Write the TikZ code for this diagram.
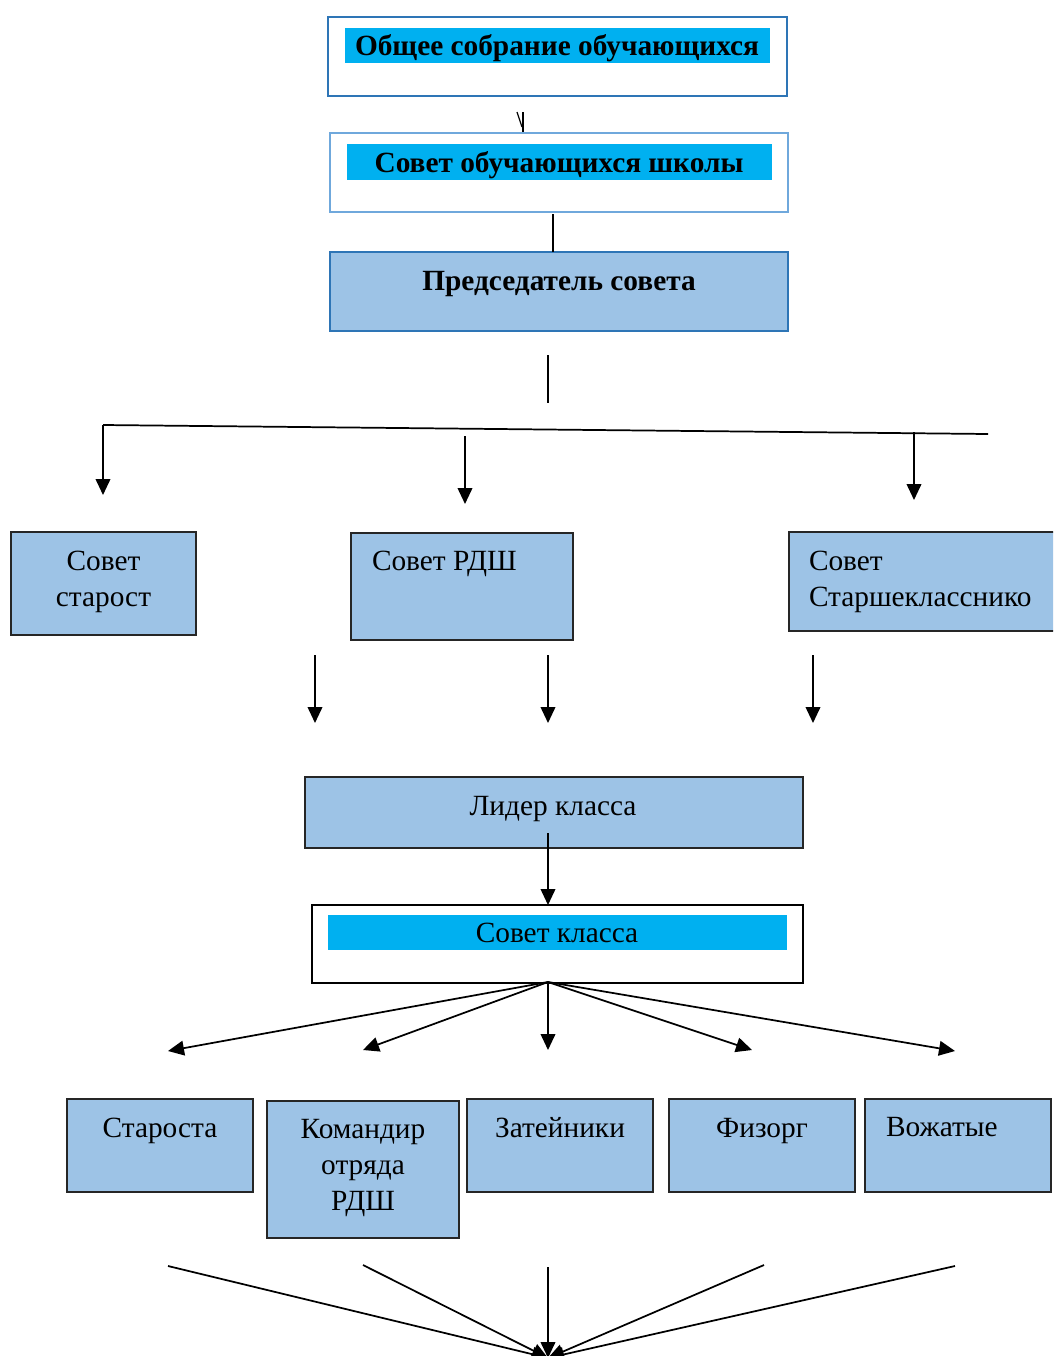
\documentclass[tikz,border=0pt]{standalone}
\usepackage{fontspec}
\setmainfont{Liberation Serif}
\usetikzlibrary{arrows.meta}
\definecolor{boxfill}{HTML}{9DC3E6}
\definecolor{cyanbar}{HTML}{00B0F0}
\definecolor{darkblue}{HTML}{2E75B6}
\definecolor{lightblue}{HTML}{6FA8DC}
\begin{document}
\begin{tikzpicture}[x=0.75pt,y=-0.75pt,
  every node/.style={inner sep=0pt,outer sep=0pt},
  bluebox/.style={draw=#1,line width=2.2pt,fill=white},
  fillbox/.style={draw=black!85,line width=1.6pt,fill=boxfill},
  bar/.style={fill=cyanbar},
  txt/.style={font=\fontsize{22}{27}\selectfont,anchor=base},
  btxt/.style={font=\fontsize{22}{27}\selectfont\bfseries,anchor=base},
  conn/.style={line width=1.3pt},
  arr/.style={line width=1.3pt,-{Triangle[length=12pt,width=11pt]}}]
\useasboundingbox (0,0) rectangle (1053,1356);
\clip (0,0) rectangle (1053,1356);
\fill[white] (0,0) rectangle (1053,1356);

% top three boxes
\draw[bluebox=darkblue] (328,17) rectangle (787,96);
\node[bar,minimum width=425*0.75pt,minimum height=35*0.75pt] (bar1) at (557.5,45.5) {};
\node[btxt] (t1) at (557,55) {Общее собрание обучающихся};

\coordinate (k1) at (523,112);
\coordinate (k2) at (523,132);
\draw[line width=1.6pt] (k1) -- (k2);
\draw[line width=0.9pt] (517,112) -- (522,127);

\draw[bluebox=lightblue] (330,133) rectangle (788,212);
\node[bar,minimum width=425*0.75pt,minimum height=36*0.75pt] (bar2) at (559.5,162) {};
\node[btxt] (t2) at (559,172) {Совет обучающихся школы};

\node[fillbox,draw=darkblue,line width=2.2pt,minimum width=458*0.75pt,minimum height=79*0.75pt] (pred) at (559,291.5) {};
\node[btxt] (t3) at (559,290) {Председатель совета};
\draw[conn] (553,214) -- (pred.north -| 553,0);

% branch
\coordinate (v1) at (548,355);
\coordinate (v2) at (548,403);
\draw[conn] (v1) -- (v2);
\coordinate (hL) at (103,425);
\coordinate (hR) at (988,434);
\draw[conn] (hL) -- (hR);
\coordinate (a1e) at (103,495);
\coordinate (a2s) at (465,436);
\coordinate (a2e) at (465,504);
\coordinate (a3s) at (914,432);
\coordinate (a3e) at (914,500);
\draw[arr] (hL) -- (a1e);
\draw[arr] (a2s) -- (a2e);
\draw[arr] (a3s) -- (a3e);

% middle row
\node[fillbox,minimum width=185*0.75pt,minimum height=103*0.75pt] (starost) at (103.5,583.5) {};
\node[txt] (ts1) at (103.5,570) {Совет};
\node[txt] (ts2) at (103.5,606) {старост};
\node[fillbox,minimum width=222*0.75pt,minimum height=107*0.75pt] (rdsh) at (462,586.5) {};
\node[txt,anchor=base west] (tr) at (372,570) {Совет РДШ};
\node[fillbox,minimum width=270*0.75pt,minimum height=99*0.75pt] (stsh) at (924,581.5) {};
\node[txt,anchor=base west] (tst1) at (809,570) {Совет};
\node[txt,anchor=base west] (tst2) at (809,606) {Старшекласснико};

\coordinate (b1s) at (315,655); \coordinate (b1e) at (315,723);
\coordinate (b2s) at (548,655); \coordinate (b2e) at (548,723);
\coordinate (b3s) at (813,655); \coordinate (b3e) at (813,723);
\draw[arr] (b1s) -- (b1e);
\draw[arr] (b2s) -- (b2e);
\draw[arr] (b3s) -- (b3e);

% leader
\node[fillbox,minimum width=498*0.75pt,minimum height=71*0.75pt] (lider) at (554,812.5) {};
\node[txt] (tl) at (553,815) {Лидер класса};
\node[draw=black,line width=1.6pt,fill=white,minimum width=491*0.75pt,minimum height=78*0.75pt] (klass) at (557.5,944) {};
\node[bar,minimum width=459*0.75pt,minimum height=35*0.75pt] (bar3) at (557.5,932.5) {};
\node[txt] (tk) at (557,942) {Совет класса};
\coordinate (lk) at (548,833);
\draw[arr] (lk) -- (klass.north -| lk);

% fan out
\coordinate (f0) at (548,982);
\coordinate (f1) at (168,1051);
\coordinate (f2) at (363,1050);
\coordinate (f3) at (548,1050);
\coordinate (f4) at (752,1050);
\coordinate (f5) at (955,1051);
\foreach \p in {f1,f2,f3,f4,f5} \draw[arr] (f0) -- (\p);

% bottom row
\node[fillbox,minimum width=186*0.75pt,minimum height=93*0.75pt] (s1) at (160,1145.5) {};
\node[txt] (u1) at (160,1137) {Староста};
\node[fillbox,minimum width=192*0.75pt,minimum height=137*0.75pt] (s2) at (363,1169.5) {};
\node[txt] (u2a) at (363,1138) {Командир};
\node[txt] (u2b) at (363,1174) {отряда};
\node[txt] (u2c) at (363,1210) {РДШ};
\node[fillbox,minimum width=186*0.75pt,minimum height=93*0.75pt] (s3) at (560,1145.5) {};
\node[txt] (u3) at (560,1137) {Затейники};
\node[fillbox,minimum width=186*0.75pt,minimum height=93*0.75pt] (s4) at (762,1145.5) {};
\node[txt] (u4) at (762,1137) {Физорг};
\node[fillbox,minimum width=186*0.75pt,minimum height=93*0.75pt] (s5) at (958,1145.5) {};
\node[txt,anchor=base west] (u5) at (886,1136) {Вожатые};

% converge
\coordinate (c0) at (548,1358);
\coordinate (c1) at (168,1266);
\coordinate (c2) at (363,1265);
\coordinate (c3) at (548,1267);
\coordinate (c4) at (764,1265);
\coordinate (c5) at (955,1266);
\foreach \p in {c1,c2,c3,c4,c5} \draw[arr] (\p) -- (c0);
\end{tikzpicture}
\end{document}
